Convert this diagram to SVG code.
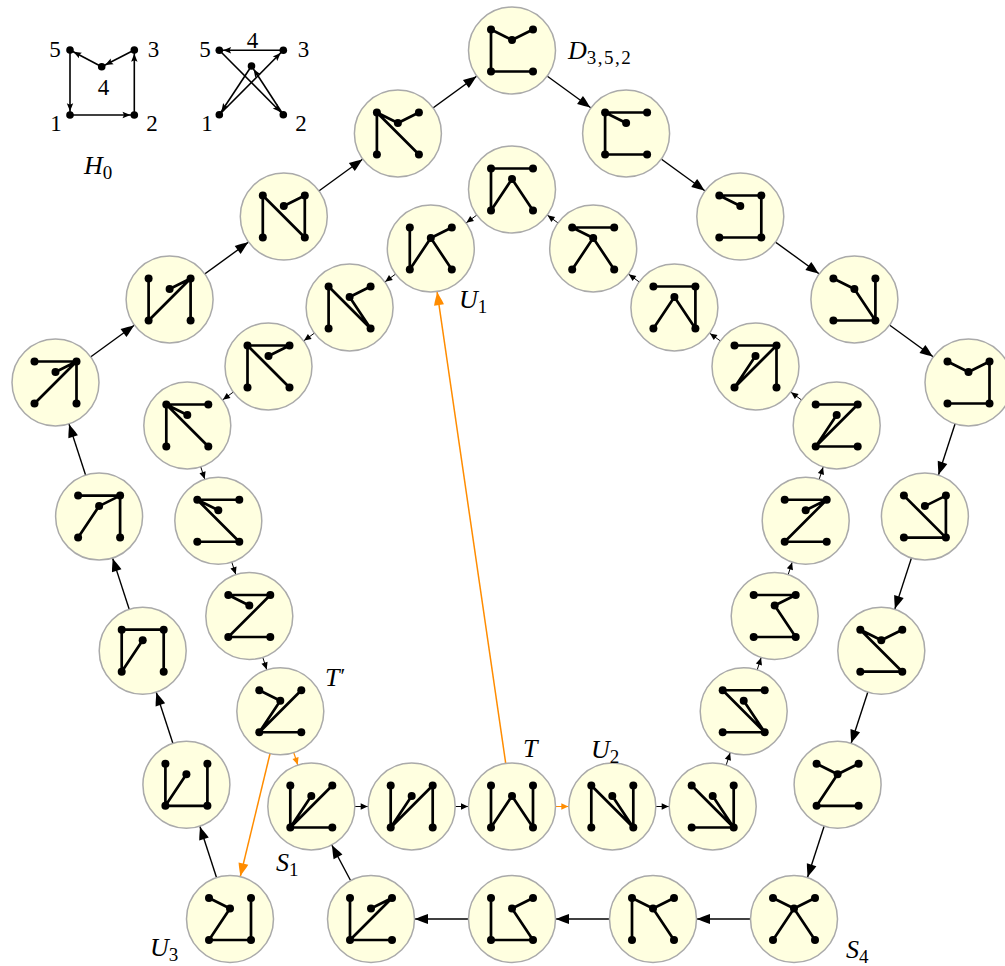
<svg xmlns="http://www.w3.org/2000/svg" xmlns:xlink="http://www.w3.org/1999/xlink" width="1005" height="966" viewBox="0 0 1005 966">
<style>
.b{fill:#ffffe0;stroke:#aaaaaa;stroke-width:1.5}
.e{fill:none;stroke:#000;stroke-width:2.7;stroke-linecap:round}
.cb{stroke:#000;stroke-width:1.4;fill:none}
.ci{stroke:#000;stroke-width:1;fill:none}
.co{stroke:#ff8c00;stroke-width:1.5;fill:none}
.coi{stroke:#ff8c00;stroke-width:1.2;fill:none}
.h{stroke:#000;stroke-width:1.6;fill:none}
text{font-family:"Liberation Serif","Times New Roman",serif;fill:#000}
.m{font-style:italic;font-size:26px}
.s{font-style:normal;font-size:19px}
.p{font-style:normal;font-size:22px}
.d{font-size:23px;text-anchor:middle}
</style>
<defs>
<marker id="mb" markerUnits="userSpaceOnUse" orient="auto" refX="44" refY="0" markerWidth="1" markerHeight="1" overflow="visible"><path d="M0,0C-4,-1.5 -8,-3.4 -13,-5L-13,5C-8,3.4 -4,1.5 0,0Z" fill="#000"/></marker>
<marker id="mo" markerUnits="userSpaceOnUse" orient="auto" refX="44" refY="0" markerWidth="1" markerHeight="1" overflow="visible"><path d="M0,0C-4,-1.5 -8,-3.4 -13,-5L-13,5C-8,3.4 -4,1.5 0,0Z" fill="#ff8c00"/></marker>
<marker id="ms" markerUnits="userSpaceOnUse" orient="auto" refX="44" refY="0" markerWidth="1" markerHeight="1" overflow="visible"><path d="M0,0L-7,-3.2L-7,3.2Z" fill="#000"/></marker>
<marker id="mso" markerUnits="userSpaceOnUse" orient="auto" refX="44" refY="0" markerWidth="1" markerHeight="1" overflow="visible"><path d="M0,0L-7,-3.2L-7,3.2Z" fill="#ff8c00"/></marker>
<marker id="mh" markerUnits="userSpaceOnUse" orient="auto" refX="3.8" refY="0" markerWidth="1" markerHeight="1" overflow="visible"><path d="M0,0L-8,-3.2L-6.5,0L-8,3.2Z" fill="#000"/></marker>
<g id="V"><circle cx="-21" cy="-21" r="4"/><circle cx="21" cy="-21" r="4"/><circle cx="-21" cy="21" r="4"/><circle cx="21" cy="21" r="4"/><circle cx="0" cy="-10.5" r="4"/></g>
</defs>

<g id="connectors">
<line class="cb" marker-end="url(#mb)" x1="230" y1="919" x2="186.4" y2="784.8"/>
<line class="cb" marker-end="url(#mb)" x1="186.4" y1="784.8" x2="142.7" y2="650.7"/>
<line class="cb" marker-end="url(#mb)" x1="142.7" y1="650.7" x2="99.1" y2="516.6"/>
<line class="cb" marker-end="url(#mb)" x1="99.1" y1="516.6" x2="55.5" y2="382.5"/>
<line class="cb" marker-end="url(#mb)" x1="55.5" y1="382.5" x2="169.6" y2="299.5"/>
<line class="cb" marker-end="url(#mb)" x1="169.6" y1="299.5" x2="283.8" y2="216.5"/>
<line class="cb" marker-end="url(#mb)" x1="283.8" y1="216.5" x2="397.9" y2="133.5"/>
<line class="cb" marker-end="url(#mb)" x1="397.9" y1="133.5" x2="512" y2="50.5"/>
<line class="cb" marker-end="url(#mb)" x1="512" y1="50.5" x2="626.1" y2="133.5"/>
<line class="cb" marker-end="url(#mb)" x1="626.1" y1="133.5" x2="740.3" y2="216.5"/>
<line class="cb" marker-end="url(#mb)" x1="740.3" y1="216.5" x2="854.4" y2="299.5"/>
<line class="cb" marker-end="url(#mb)" x1="854.4" y1="299.5" x2="968.5" y2="382.5"/>
<line class="cb" marker-end="url(#mb)" x1="968.5" y1="382.5" x2="924.9" y2="516.6"/>
<line class="cb" marker-end="url(#mb)" x1="924.9" y1="516.6" x2="881.3" y2="650.7"/>
<line class="cb" marker-end="url(#mb)" x1="881.3" y1="650.7" x2="837.6" y2="784.8"/>
<line class="cb" marker-end="url(#mb)" x1="837.6" y1="784.8" x2="794" y2="919"/>
<line class="cb" marker-end="url(#mb)" x1="794" y1="919" x2="653" y2="919"/>
<line class="cb" marker-end="url(#mb)" x1="653" y1="919" x2="512" y2="919"/>
<line class="cb" marker-end="url(#mb)" x1="512" y1="919" x2="371" y2="919"/>
<line class="cb" marker-end="url(#mb)" x1="371" y1="919" x2="311.3" y2="806.5"/>

<line class="ci" marker-end="url(#ms)" x1="612.3" y1="806.5" x2="712.7" y2="806.5"/>
<line class="ci" marker-end="url(#ms)" x1="712.7" y1="806.5" x2="743.7" y2="711.25"/>
<line class="ci" marker-end="url(#ms)" x1="743.7" y1="711.25" x2="774.7" y2="616"/>
<line class="ci" marker-end="url(#ms)" x1="774.7" y1="616" x2="805.7" y2="520.75"/>
<line class="ci" marker-end="url(#ms)" x1="805.7" y1="520.75" x2="836.7" y2="425.5"/>
<line class="ci" marker-end="url(#ms)" x1="836.7" y1="425.5" x2="755.5" y2="366.5"/>
<line class="ci" marker-end="url(#ms)" x1="755.5" y1="366.5" x2="674.4" y2="307.5"/>
<line class="ci" marker-end="url(#ms)" x1="674.4" y1="307.5" x2="593.2" y2="248.5"/>
<line class="ci" marker-end="url(#ms)" x1="593.2" y1="248.5" x2="512" y2="189.5"/>
<line class="ci" marker-end="url(#ms)" x1="512" y1="189.5" x2="430.8" y2="248.5"/>
<line class="ci" marker-end="url(#ms)" x1="430.8" y1="248.5" x2="349.6" y2="307.5"/>
<line class="ci" marker-end="url(#ms)" x1="349.6" y1="307.5" x2="268.5" y2="366.5"/>
<line class="ci" marker-end="url(#ms)" x1="268.5" y1="366.5" x2="187.3" y2="425.5"/>
<line class="ci" marker-end="url(#ms)" x1="187.3" y1="425.5" x2="218.3" y2="520.75"/>
<line class="ci" marker-end="url(#ms)" x1="218.3" y1="520.75" x2="249.3" y2="616"/>
<line class="ci" marker-end="url(#ms)" x1="249.3" y1="616" x2="280.3" y2="711.25"/>
<line class="ci" marker-end="url(#ms)" x1="311.3" y1="806.5" x2="411.7" y2="806.5"/>
<line class="ci" marker-end="url(#ms)" x1="411.7" y1="806.5" x2="512" y2="806.5"/>

<line class="coi" marker-end="url(#mso)" x1="512" y1="806.5" x2="612.3" y2="806.5"/>
<line class="coi" marker-end="url(#mso)" x1="280.3" y1="711.25" x2="311.3" y2="806.5"/>
<line class="co" marker-end="url(#mo)" x1="512" y1="806.5" x2="430.8" y2="248.5"/>
<line class="co" marker-end="url(#mo)" x1="280.3" y1="711.25" x2="230" y2="919"/>
</g>

<g id="O1" transform="translate(512,50.5)"><circle class="b" r="43.5"/><path class="e" d="M-21-21L0-10.5M0-10.5L21-21M-21-21V21M-21 21H21"/><use xlink:href="#V"/></g>
<g id="O2" transform="translate(626.1,133.5)"><circle class="b" r="43.5"/><path class="e" d="M-21-21H21M-21-21L0-10.5M-21-21V21M-21 21H21"/><use xlink:href="#V"/></g>
<g id="O3" transform="translate(740.3,216.5)"><circle class="b" r="43.5"/><path class="e" d="M-21-21H21M-21-21L0-10.5M21-21V21M-21 21H21"/><use xlink:href="#V"/></g>
<g id="O4" transform="translate(854.4,299.5)"><circle class="b" r="43.5"/><path class="e" d="M-21-21L0-10.5M0-10.5L21 21M21-21V21M-21 21H21"/><use xlink:href="#V"/></g>
<g id="O5" transform="translate(968.5,382.5)"><circle class="b" r="43.5"/><path class="e" d="M-21-21L0-10.5M0-10.5L21-21M21-21V21M-21 21H21"/><use xlink:href="#V"/></g>
<g id="O6" transform="translate(924.9,516.6)"><circle class="b" r="43.5"/><path class="e" d="M-21-21L21 21M0-10.5L21-21M21-21V21M-21 21H21"/><use xlink:href="#V"/></g>
<g id="O7" transform="translate(881.3,650.7)"><circle class="b" r="43.5"/><path class="e" d="M-21-21L0-10.5M0-10.5L21-21M-21-21L21 21M-21 21H21"/><use xlink:href="#V"/></g>
<g id="O8" transform="translate(837.6,784.8)"><circle class="b" r="43.5"/><path class="e" d="M-21-21L0-10.5M0-10.5L21-21M0-10.5L-21 21M-21 21H21"/><use xlink:href="#V"/></g>
<g id="O9" transform="translate(794,919)"><circle class="b" r="43.5"/><path class="e" d="M-21-21L0-10.5M0-10.5L21-21M0-10.5L-21 21M0-10.5L21 21"/><use xlink:href="#V"/></g>
<g id="O10" transform="translate(653,919)"><circle class="b" r="43.5"/><path class="e" d="M-21-21V21M-21-21L0-10.5M0-10.5L21-21M0-10.5L21 21"/><use xlink:href="#V"/></g>
<g id="O11" transform="translate(512,919)"><circle class="b" r="43.5"/><path class="e" d="M-21-21V21M-21 21H21M0-10.5L21-21M0-10.5L21 21"/><use xlink:href="#V"/></g>
<g id="O12" transform="translate(371,919)"><circle class="b" r="43.5"/><path class="e" d="M-21-21V21M-21 21L21-21M0-10.5L21-21M-21 21H21"/><use xlink:href="#V"/></g>
<g id="O13" transform="translate(230,919)"><circle class="b" r="43.5"/><path class="e" d="M-21-21L0-10.5M0-10.5L-21 21M-21 21H21M21-21V21"/><use xlink:href="#V"/></g>
<g id="O14" transform="translate(186.4,784.8)"><circle class="b" r="43.5"/><path class="e" d="M-21-21V21M0-10.5L-21 21M-21 21H21M21-21V21"/><use xlink:href="#V"/></g>
<g id="O15" transform="translate(142.7,650.7)"><circle class="b" r="43.5"/><path class="e" d="M-21-21H21M-21-21V21M0-10.5L-21 21M21-21V21"/><use xlink:href="#V"/></g>
<g id="O16" transform="translate(99.1,516.6)"><circle class="b" r="43.5"/><path class="e" d="M-21-21H21M0-10.5L-21 21M0-10.5L21-21M21-21V21"/><use xlink:href="#V"/></g>
<g id="O17" transform="translate(55.5,382.5)"><circle class="b" r="43.5"/><path class="e" d="M-21-21H21M-21 21L21-21M0-10.5L21-21M21-21V21"/><use xlink:href="#V"/></g>
<g id="O18" transform="translate(169.6,299.5)"><circle class="b" r="43.5"/><path class="e" d="M-21-21V21M-21 21L21-21M0-10.5L21-21M21-21V21"/><use xlink:href="#V"/></g>
<g id="O19" transform="translate(283.8,216.5)"><circle class="b" r="43.5"/><path class="e" d="M-21-21V21M-21-21L21 21M0-10.5L21-21M21-21V21"/><use xlink:href="#V"/></g>
<g id="O20" transform="translate(397.9,133.5)"><circle class="b" r="43.5"/><path class="e" d="M-21-21V21M-21-21L21 21M-21-21L0-10.5M0-10.5L21-21"/><use xlink:href="#V"/></g>

<g id="I1" transform="translate(512,189.5)"><circle class="b" r="43.5"/><path class="e" d="M-21-21H21M-21-21V21M0-10.5L-21 21M0-10.5L21 21"/><use xlink:href="#V"/></g>
<g id="I2" transform="translate(593.2,248.5)"><circle class="b" r="43.5"/><path class="e" d="M-21-21H21M-21-21L0-10.5M0-10.5L-21 21M0-10.5L21 21"/><use xlink:href="#V"/></g>
<g id="I3" transform="translate(674.4,307.5)"><circle class="b" r="43.5"/><path class="e" d="M-21-21H21M21-21V21M0-10.5L-21 21M0-10.5L21 21"/><use xlink:href="#V"/></g>
<g id="I4" transform="translate(755.5,366.5)"><circle class="b" r="43.5"/><path class="e" d="M-21-21H21M21-21V21M-21 21L21-21M0-10.5L-21 21"/><use xlink:href="#V"/></g>
<g id="I5" transform="translate(836.7,425.5)"><circle class="b" r="43.5"/><path class="e" d="M-21-21H21M-21 21L21-21M0-10.5L-21 21M-21 21H21"/><use xlink:href="#V"/></g>
<g id="I6" transform="translate(805.7,520.75)"><circle class="b" r="43.5"/><path class="e" d="M-21-21H21M-21 21L21-21M-21 21H21M0-10.5L21-21"/><use xlink:href="#V"/></g>
<g id="I7" transform="translate(774.7,616)"><circle class="b" r="43.5"/><path class="e" d="M-21-21H21M0-10.5L21-21M0-10.5L21 21M-21 21H21"/><use xlink:href="#V"/></g>
<g id="I8" transform="translate(743.7,711.25)"><circle class="b" r="43.5"/><path class="e" d="M-21-21H21M-21-21L21 21M0-10.5L21 21M-21 21H21"/><use xlink:href="#V"/></g>
<g id="I9" transform="translate(712.7,806.5)"><circle class="b" r="43.5"/><path class="e" d="M-21-21L21 21M0-10.5L21 21M21-21V21M-21 21H21"/><use xlink:href="#V"/></g>
<g id="I10" transform="translate(612.3,806.5)"><circle class="b" r="43.5"/><path class="e" d="M-21-21V21M-21-21L21 21M0-10.5L21 21M21-21V21"/><use xlink:href="#V"/></g>
<g id="I11" transform="translate(512,806.5)"><circle class="b" r="43.5"/><path class="e" d="M-21-21V21M0-10.5L-21 21M0-10.5L21 21M21-21V21"/><use xlink:href="#V"/></g>
<g id="I12" transform="translate(411.7,806.5)"><circle class="b" r="43.5"/><path class="e" d="M-21-21V21M0-10.5L-21 21M-21 21L21-21M21-21V21"/><use xlink:href="#V"/></g>
<g id="I13" transform="translate(311.3,806.5)"><circle class="b" r="43.5"/><path class="e" d="M-21-21V21M0-10.5L-21 21M-21 21L21-21M-21 21H21"/><use xlink:href="#V"/></g>
<g id="I14" transform="translate(280.3,711.25)"><circle class="b" r="43.5"/><path class="e" d="M-21-21L0-10.5M0-10.5L-21 21M-21 21L21-21M-21 21H21"/><use xlink:href="#V"/></g>
<g id="I15" transform="translate(249.3,616)"><circle class="b" r="43.5"/><path class="e" d="M-21-21H21M-21-21L0-10.5M-21 21L21-21M-21 21H21"/><use xlink:href="#V"/></g>
<g id="I16" transform="translate(218.3,520.75)"><circle class="b" r="43.5"/><path class="e" d="M-21-21H21M-21-21L0-10.5M-21-21L21 21M-21 21H21"/><use xlink:href="#V"/></g>
<g id="I17" transform="translate(187.3,425.5)"><circle class="b" r="43.5"/><path class="e" d="M-21-21H21M-21-21L0-10.5M-21-21L21 21M-21-21V21"/><use xlink:href="#V"/></g>
<g id="I18" transform="translate(268.5,366.5)"><circle class="b" r="43.5"/><path class="e" d="M-21-21H21M0-10.5L21-21M-21-21L21 21M-21-21V21"/><use xlink:href="#V"/></g>
<g id="I19" transform="translate(349.6,307.5)"><circle class="b" r="43.5"/><path class="e" d="M-21-21V21M-21-21L21 21M0-10.5L21-21M0-10.5L21 21"/><use xlink:href="#V"/></g>
<g id="I20" transform="translate(430.8,248.5)"><circle class="b" r="43.5"/><path class="e" d="M-21-21V21M0-10.5L-21 21M0-10.5L21-21M0-10.5L21 21"/><use xlink:href="#V"/></g>

<g id="H0-left">
<line class="h" marker-end="url(#mh)" x1="70" y1="50" x2="70" y2="115"/>
<line class="h" marker-end="url(#mh)" x1="70" y1="115" x2="134.3" y2="115"/>
<line class="h" marker-end="url(#mh)" x1="134.3" y1="115" x2="134.3" y2="50"/>
<line class="h" marker-end="url(#mh)" x1="134.3" y1="50" x2="101.7" y2="66.7"/>
<line class="h" marker-end="url(#mh)" x1="101.7" y1="66.7" x2="70" y2="50"/>
<circle cx="70" cy="50" r="3.8"/><circle cx="134.3" cy="50" r="3.8"/><circle cx="101.7" cy="66.7" r="3.8"/><circle cx="70" cy="115" r="3.8"/><circle cx="134.3" cy="115" r="3.8"/>
<text class="d" x="55" y="57">5</text><text class="d" x="153.5" y="57">3</text><text class="d" x="103.5" y="95">4</text><text class="d" x="56" y="131">1</text><text class="d" x="152" y="131">2</text>
</g>
<g id="H0-right">
<line class="h" marker-end="url(#mh)" x1="283.3" y1="50.3" x2="219.3" y2="50.3"/>
<line class="h" marker-end="url(#mh)" x1="219.3" y1="50.3" x2="283.3" y2="114.7"/>
<line class="h" marker-end="url(#mh)" x1="283.3" y1="114.7" x2="251.5" y2="66"/>
<line class="h" marker-end="url(#mh)" x1="251.5" y1="66" x2="219.3" y2="114.7"/>
<line class="h" marker-end="url(#mh)" x1="219.3" y1="114.7" x2="283.3" y2="50.3"/>
<circle cx="219.3" cy="50.3" r="3.8"/><circle cx="283.3" cy="50.3" r="3.8"/><circle cx="251.5" cy="66" r="3.8"/><circle cx="219.3" cy="114.7" r="3.8"/><circle cx="283.3" cy="114.7" r="3.8"/>
<text class="d" x="205" y="57">5</text><text class="d" x="303.5" y="57">3</text><text class="d" x="252.5" y="48">4</text><text class="d" x="207" y="131">1</text><text class="d" x="301" y="131">2</text>
</g>

<g id="labels">
<text class="m" x="84" y="174">H<tspan class="s" dy="5">0</tspan></text>
<text class="m" x="568" y="59">D<tspan class="s" dy="5" letter-spacing="1.5">3,5,2</tspan></text>
<text class="m" x="459" y="308">U<tspan class="s" dy="5">1</tspan></text>
<text class="m" x="325" y="686">T<tspan class="p" dx="1" dy="-3">′</tspan></text>
<text class="m" x="523" y="757">T</text>
<text class="m" x="591" y="758">U<tspan class="s" dy="5">2</tspan></text>
<text class="m" x="276" y="871">S<tspan class="s" dy="5">1</tspan></text>
<text class="m" x="150" y="956">U<tspan class="s" dy="5">3</tspan></text>
<text class="m" x="846" y="958">S<tspan class="s" dy="5">4</tspan></text>
</g>
</svg>
